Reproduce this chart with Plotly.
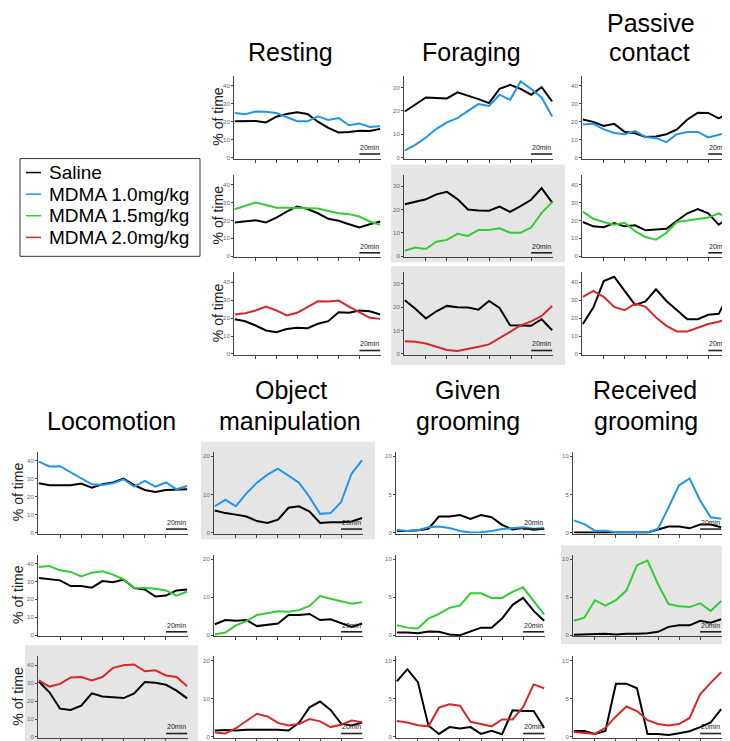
import plotly.graph_objects as go

W, H = 730, 741
time_bins = list(range(15))  # 10-min bins over 140 min
xticks = [2, 4, 6, 8, 10, 12]

# ---------------- data (% of time) ----------------
resting_r1_saline = [20.2, 20.2, 20.4, 19.6, 22.8, 24.3, 25.2, 24.3, 20.0, 16.5, 14.0, 14.3, 15.0, 14.8, 16.0]
resting_r1_mdma10 = [24.8, 24.2, 25.7, 25.6, 24.8, 22.5, 20.3, 20.2, 23.0, 21.0, 22.0, 18.0, 19.0, 17.0, 17.5]
resting_r2_saline = [18.9, 19.4, 20.1, 18.9, 21.6, 24.9, 27.8, 26.4, 24.0, 20.9, 19.8, 17.9, 16.1, 17.9, 19.4]
resting_r2_mdma15 = [26.2, 28.2, 30.0, 28.6, 27.1, 27.1, 27.1, 26.7, 26.7, 25.3, 24.0, 23.5, 22.2, 19.4, 17.6]
resting_r3_saline = [19.4, 18.3, 15.9, 13.1, 12.2, 13.9, 14.6, 14.4, 16.9, 18.3, 23.3, 23.0, 24.3, 23.9, 22.0]
resting_r3_mdma20 = [22.0, 22.8, 24.3, 26.5, 24.3, 21.5, 23.0, 26.1, 29.4, 29.3, 29.8, 26.5, 23.3, 20.2, 19.6]

foraging_r1_saline = [19.7, 22.6, 25.7, 25.5, 25.3, 27.9, 26.6, 25.0, 23.3, 29.4, 31.1, 29.4, 26.9, 30.1, 24.0]
foraging_r1_mdma10 = [3.1, 5.4, 8.6, 12.3, 15.1, 16.9, 20.0, 22.9, 22.1, 26.9, 24.7, 32.6, 29.4, 25.7, 17.6]
foraging_r2_saline = [22.3, 23.3, 24.4, 26.5, 27.6, 24.5, 20.0, 19.6, 19.5, 21.3, 19.0, 21.5, 24.2, 29.2, 23.0]
foraging_r2_mdma15 = [2.4, 3.7, 3.1, 6.2, 7.0, 9.6, 8.7, 11.3, 11.3, 12.0, 10.1, 10.1, 12.3, 18.6, 23.1]
foraging_r3_saline = [23.0, 19.4, 15.2, 18.3, 20.6, 20.0, 19.9, 19.0, 22.7, 19.7, 12.3, 12.1, 12.1, 14.9, 10.2]
foraging_r3_mdma20 = [5.5, 5.2, 4.5, 3.1, 1.7, 1.3, 2.1, 3.1, 4.1, 6.7, 9.5, 12.3, 14.0, 16.3, 20.6]

passive_r1_saline = [21.2, 19.9, 17.6, 18.8, 14.4, 13.5, 11.5, 11.7, 13.0, 15.7, 21.2, 25.0, 24.9, 21.8, 25.0]
passive_r1_mdma10 = [18.5, 18.8, 15.7, 13.7, 13.0, 14.8, 11.5, 10.8, 8.6, 13.0, 14.3, 14.3, 11.2, 12.8, 14.1]
passive_r2_saline = [19.1, 16.7, 16.2, 18.5, 16.7, 17.3, 14.5, 14.9, 15.3, 19.8, 24.0, 26.4, 24.0, 17.6, 21.8]
passive_r2_mdma15 = [24.9, 20.9, 19.1, 17.6, 18.7, 14.0, 10.7, 9.3, 13.1, 19.1, 20.0, 20.9, 21.6, 24.0, 20.9]
passive_r3_saline = [16.7, 25.9, 40.7, 43.1, 35.2, 27.4, 29.3, 36.1, 29.6, 24.6, 19.4, 19.4, 21.9, 22.4, 33.9]
passive_r3_mdma20 = [31.9, 35.2, 31.9, 26.3, 24.4, 28.1, 26.3, 20.4, 15.7, 12.6, 12.6, 14.8, 16.7, 18.0, 20.0]

loco_r1_saline = [27.5, 26.4, 26.4, 26.4, 27.3, 25.0, 26.9, 27.9, 30.1, 26.4, 23.7, 22.6, 23.7, 24.1, 24.1]
loco_r1_mdma10 = [39.5, 36.8, 37.0, 33.5, 30.0, 26.9, 26.5, 27.5, 29.7, 25.6, 28.8, 25.6, 27.9, 24.1, 25.9]
loco_r2_saline = [31.9, 31.1, 30.6, 27.4, 27.4, 26.5, 30.2, 29.6, 31.0, 26.3, 25.5, 21.6, 22.1, 25.0, 25.5]
loco_r2_mdma15 = [38.1, 38.6, 36.2, 35.3, 32.8, 34.9, 35.6, 33.8, 31.1, 26.5, 26.3, 25.9, 25.0, 22.1, 24.4]
loco_r3_saline = [30.9, 24.9, 15.8, 15.1, 17.4, 24.3, 22.6, 22.1, 21.7, 24.3, 30.6, 30.2, 29.1, 25.8, 21.5]
loco_r3_mdma20 = [31.5, 28.1, 29.6, 33.2, 33.4, 31.5, 33.4, 38.5, 40.0, 40.4, 36.6, 37.2, 34.3, 33.4, 28.3]

object_r1_saline = [5.8, 5.1, 4.7, 4.2, 3.0, 2.5, 3.4, 6.5, 6.9, 5.5, 2.5, 2.7, 2.7, 2.9, 3.8]
object_r1_mdma10 = [6.9, 8.6, 6.9, 10.3, 13.1, 15.2, 16.8, 14.9, 13.1, 9.3, 4.9, 5.1, 8.0, 15.5, 19.0]
object_r2_saline = [2.9, 4.0, 3.8, 4.0, 2.4, 2.7, 3.1, 5.3, 5.3, 5.6, 4.0, 4.2, 3.1, 2.2, 3.1]
object_r2_mdma15 = [0.2, 0.7, 2.6, 3.7, 5.3, 5.7, 6.3, 6.2, 6.6, 7.7, 10.3, 9.6, 9.0, 8.3, 8.7]
object_r3_saline = [1.7, 1.8, 1.7, 1.9, 1.9, 1.9, 1.9, 1.7, 3.7, 7.8, 9.3, 7.1, 3.5, 3.0, 3.8]
object_r3_mdma20 = [1.2, 0.9, 2.3, 4.1, 6.1, 5.4, 3.7, 3.0, 3.4, 4.7, 4.1, 2.6, 3.2, 4.3, 3.9]

given_r1_saline = [0.2, 0.2, 0.3, 0.5, 2.1, 2.1, 2.3, 1.8, 2.3, 2.0, 1.0, 0.4, 0.6, 0.35, 0.5]
given_r1_mdma10 = [0.35, 0.2, 0.3, 0.7, 0.8, 0.6, 0.2, 0.0, 0.05, 0.2, 0.45, 0.6, 0.7, 0.5, 0.6]
given_r2_saline = [0.35, 0.35, 0.25, 0.5, 0.45, 0.1, 0.0, 0.5, 1.0, 1.0, 2.2, 4.0, 4.9, 3.2, 1.9]
given_r2_mdma15 = [1.3, 1.0, 0.9, 2.2, 2.8, 3.6, 3.9, 5.5, 5.5, 4.9, 4.9, 5.7, 6.3, 4.5, 2.7]
given_r3_saline = [7.3, 8.9, 7.2, 1.5, 0.4, 1.3, 1.1, 1.3, 0.4, 0.8, 0.35, 3.5, 3.4, 3.4, 1.2]
given_r3_mdma20 = [2.1, 1.9, 1.55, 1.4, 3.85, 4.3, 4.1, 2.0, 1.7, 1.4, 2.3, 2.3, 3.9, 6.9, 6.4]

received_r1_saline = [0.0, 0.0, 0.0, 0.0, 0.0, 0.0, 0.0, 0.0, 0.4, 0.8, 0.8, 0.55, 1.05, 1.05, 0.7]
received_r1_mdma10 = [1.6, 1.1, 0.25, 0.25, 0.05, 0.0, 0.0, 0.0, 0.5, 3.3, 6.2, 7.1, 4.2, 2.0, 1.8]
received_r2_saline = [0.05, 0.1, 0.2, 0.2, 0.1, 0.2, 0.2, 0.25, 0.45, 1.1, 1.3, 1.3, 1.9, 1.65, 2.1]
received_r2_mdma15 = [1.9, 2.3, 4.6, 3.9, 4.6, 5.9, 9.2, 9.8, 6.7, 4.1, 3.8, 3.7, 4.2, 3.2, 4.5]
received_r3_saline = [0.8, 0.8, 0.4, 0.8, 7.0, 7.0, 6.4, 0.4, 0.4, 0.25, 0.5, 0.75, 1.3, 1.9, 3.65]
received_r3_mdma20 = [0.65, 0.5, 0.4, 1.2, 2.7, 4.0, 3.4, 2.2, 1.7, 1.5, 1.7, 2.5, 5.6, 7.1, 8.5]

legend_labels = ["Saline", "MDMA 1.0mg/kg", "MDMA 1.5mg/kg", "MDMA 2.0mg/kg"]
# ---------------------------------------------------

SAL = "#000000"
C10 = "#2196e8"
C15 = "#33cc33"
C20 = "#d62828"
FONT = "Liberation Sans, Arial, sans-serif"
AX = "#444444"

def fx(p):
    return p / W

def fy(p):
    return 1 - p / H

top_cols = {"res": (226, 373), "for": (396, 545), "pas": (574, 722)}
top_rows = [(68, 150), (167, 249), (265, 347)]
bot_cols = {"loc": (30, 180), "obj": (206, 355), "giv": (388, 537), "rec": (565, 714)}
bot_rows = [(445, 526), (548, 629), (650, 731)]

ymax = {"res": 45.6, "pas": 45.6, "for": 35.0, "loc": 45.0, "obj": 21.2, "giv": 10.6, "rec": 10.6}
yt = {"res": [0, 10, 20, 30, 40], "pas": [0, 10, 20, 30, 40], "loc": [0, 10, 20, 30, 40],
      "for": [0, 10, 20, 30], "obj": [0, 10, 20], "giv": [0, 5, 10], "rec": [0, 5, 10]}

data = {
    ("res", 0): (resting_r1_saline, resting_r1_mdma10, C10),
    ("res", 1): (resting_r2_saline, resting_r2_mdma15, C15),
    ("res", 2): (resting_r3_saline, resting_r3_mdma20, C20),
    ("for", 0): (foraging_r1_saline, foraging_r1_mdma10, C10),
    ("for", 1): (foraging_r2_saline, foraging_r2_mdma15, C15),
    ("for", 2): (foraging_r3_saline, foraging_r3_mdma20, C20),
    ("pas", 0): (passive_r1_saline, passive_r1_mdma10, C10),
    ("pas", 1): (passive_r2_saline, passive_r2_mdma15, C15),
    ("pas", 2): (passive_r3_saline, passive_r3_mdma20, C20),
    ("loc", 0): (loco_r1_saline, loco_r1_mdma10, C10),
    ("loc", 1): (loco_r2_saline, loco_r2_mdma15, C15),
    ("loc", 2): (loco_r3_saline, loco_r3_mdma20, C20),
    ("obj", 0): (object_r1_saline, object_r1_mdma10, C10),
    ("obj", 1): (object_r2_saline, object_r2_mdma15, C15),
    ("obj", 2): (object_r3_saline, object_r3_mdma20, C20),
    ("giv", 0): (given_r1_saline, given_r1_mdma10, C10),
    ("giv", 1): (given_r2_saline, given_r2_mdma15, C15),
    ("giv", 2): (given_r3_saline, given_r3_mdma20, C20),
    ("rec", 0): (received_r1_saline, received_r1_mdma10, C10),
    ("rec", 1): (received_r2_saline, received_r2_mdma15, C15),
    ("rec", 2): (received_r3_saline, received_r3_mdma20, C20),
}

fig = go.Figure()
layout = {}
shapes = []
annotations = []

# gray highlight boxes (x0, y0, x1, y1 in px)
gray_boxes = [(383, 157, 557, 255), (383, 259, 557, 358), (193, 435, 367, 533),
              (553, 539, 727, 638), (17, 639, 190, 738)]
for (x0, y0, x1, y1) in gray_boxes:
    shapes.append(dict(type="rect", xref="paper", yref="paper", x0=fx(x0), x1=fx(x1),
                       y0=fy(y1), y1=fy(y0), fillcolor="#e5e5e5", line=dict(width=0), layer="below"))

i = 0
for key, (sal, drug, col) in data.items():
    name, r = key
    i += 1
    if name in top_cols:
        cx = top_cols[name]
        ry = top_rows[r]
    else:
        cx = bot_cols[name]
        ry = bot_rows[r]
    ym = ymax[name]
    ymin = -ym * 0.013
    xs = "" if i == 1 else str(i)
    layout["xaxis" + xs] = dict(domain=[fx(cx[0]), fx(cx[1])], anchor="y" + xs,
                                range=[-0.08, 14.08], showgrid=False, zeroline=False,
                                showline=True, linecolor=AX, linewidth=1,
                                ticks="outside", ticklen=3, tickcolor=AX, tickwidth=1,
                                tickvals=xticks, showticklabels=False, fixedrange=True)
    layout["yaxis" + xs] = dict(domain=[fy(ry[1] + 1), fy(ry[0])], anchor="x" + xs,
                                range=[ymin, ym], showgrid=False, zeroline=False,
                                showline=True, linecolor=AX, linewidth=1,
                                ticks="outside", ticklen=2, tickcolor=AX, tickwidth=1,
                                tickvals=yt[name], tickfont=dict(size=6, color="#666666", family=FONT),
                                fixedrange=True)
    fig.add_trace(go.Scatter(x=time_bins, y=sal, mode="lines", line=dict(color=SAL, width=2),
                             xaxis="x" + xs, yaxis="y" + xs, showlegend=False, hoverinfo="skip"))
    fig.add_trace(go.Scatter(x=time_bins, y=drug, mode="lines", line=dict(color=col, width=2),
                             xaxis="x" + xs, yaxis="y" + xs, showlegend=False, hoverinfo="skip"))
    # 20 min scale bar
    shapes.append(dict(type="line", xref="x" + xs, yref="y" + xs + " domain", x0=12, x1=14,
                       y0=0.055, y1=0.055, line=dict(color="#222222", width=1.6)))
    annotations.append(dict(text="20min", xref="x" + xs, yref="y" + xs + " domain", x=13, y=0.07,
                            xanchor="center", yanchor="bottom", showarrow=False,
                            font=dict(size=7, color="#222222", family=FONT)))
    # y-axis title
    if name in ("res", "loc"):
        tx = 210 if name == "res" else 10
        annotations.append(dict(text="% of time", xref="paper", yref="paper", x=fx(tx),
                                y=fy((ry[0] + ry[1]) / 2), textangle=-90, showarrow=False,
                                xanchor="center", yanchor="middle",
                                font=dict(size=14, color="#222222", family=FONT)))

# panel titles: (text, center x px, baseline px)
titles = [("Resting", 282, 53), ("Foraging", 463, 53), ("contact", 641, 53),
          ("Locomotion", 103, 423), ("Object", 283, 392), ("manipulation", 282, 423),
          ("Given", 459, 392), ("grooming", 460, 423), ("Received", 637, 392), ("grooming", 638, 423)]
for t, cx, base in titles:
    annotations.append(dict(text=t, xref="paper", yref="paper", x=fx(cx), y=fy(base - 8.7),
                            xanchor="center", yanchor="middle", showarrow=False,
                            font=dict(size=25, color="#000000", family=FONT)))
# first line of the two-line top-right title, anchored to the top edge
annotations.append(dict(text="Passive", xref="paper", yref="paper", x=fx(643), y=1.0,
                        xanchor="center", yanchor="top", showarrow=False, borderpad=0,
                        font=dict(size=25, color="#000000", family=FONT)))

# legend box
shapes.append(dict(type="rect", xref="paper", yref="paper", x0=fx(12), x1=fx(192), y0=fy(249), y1=fy(151),
                   line=dict(color="#333333", width=1), fillcolor="rgba(0,0,0,0)"))
leg_rows = [165, 186.7, 208.3, 230]
for lab, col, yy in zip(legend_labels, [SAL, C10, C15, C20], leg_rows):
    shapes.append(dict(type="line", xref="paper", yref="paper", x0=fx(18), x1=fx(33),
                       y0=fy(yy), y1=fy(yy), line=dict(color=col, width=1.5)))
    annotations.append(dict(text=lab, xref="paper", yref="paper", x=fx(39), y=fy(yy),
                            xanchor="left", yanchor="middle", showarrow=False,
                            font=dict(size=19, color="#000000", family=FONT)))

fig.update_layout(**layout)
fig.update_layout(width=W, height=H, autosize=False, margin=dict(l=0, r=0, t=0, b=0),
                  paper_bgcolor="white", plot_bgcolor="rgba(0,0,0,0)",
                  shapes=shapes, annotations=annotations, showlegend=False,
                  font=dict(family=FONT))
fig.write_html("out.html", config={"displayModeBar": False})
